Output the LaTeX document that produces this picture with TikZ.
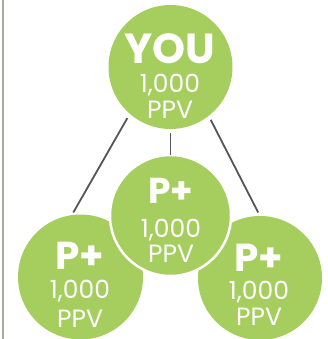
\documentclass[tikz,border=0pt]{standalone}
\usepackage{fontspec}
\setmainfont{Poppins}
\usetikzlibrary{calc}

\definecolor{leaf}{HTML}{A6CE5E}
\definecolor{wire}{HTML}{555555}
\definecolor{rule}{HTML}{ABA7A3}

\begin{document}
\begin{tikzpicture}[x=1pt,y=-1pt,
        bubble/.style={circle, fill=leaf, inner sep=0pt, outer sep=0pt},
        word/.style={anchor=base, text=white, inner sep=0pt, text height=30pt, text depth=0pt, font=\bfseries\fontsize{42}{42}\selectfont},
        plus/.style={anchor=base, text=white, inner sep=0pt, text height=27pt, text depth=0pt, font=\bfseries\fontsize{39}{39}\selectfont},
        num/.style={anchor=base, text=white, inner sep=0pt, text height=18pt, text depth=0pt, font=\fontsize{25}{25}\selectfont},
        link/.style={draw=wire, line width=1.8pt}]
        \useasboundingbox (0,0) rectangle (328,339);
        \clip (0,0) rectangle (328,339);

        % left rule
        \draw[rule, line width=2pt] (3,0) -- (3,339);

        % circles
        \node[bubble, minimum size=125pt] (left) at (80.5,277) {};
        \node[bubble, minimum size=124pt] (right) at (260,278) {};
        \node[bubble, minimum size=121pt, draw=white, line width=2.5pt] (mid) at (170.5,215.5) {};
        \node[bubble, minimum size=124pt] (you) at (170.5,67) {};

        % links
        \draw[link, shorten <=5pt, shorten >=3pt] (you.229.5) -- (left.98);
        \draw[link, shorten <=4pt] (you.270) -- (mid.90);
        \draw[link, shorten <=4.5pt, shorten >=4pt] (you.308.6) -- (right.90);

        % texts
        \node[word] (you name) at (170,64) {YOU};
        \node[num] (you num) at (170,93) {1,000};
        \node[num] (you ppv) at (170,118.5) {PPV};

        \node[plus] (left name) at (79.5,269.5) {P+};
        \node[num] (left num) at (80,298.5) {1,000};
        \node[num] (left ppv) at (80,327) {PPV};

        \node[plus, font=\bfseries\fontsize{36}{36}\selectfont] (mid name) at (171,203) {P+};
        \node[num] (mid num) at (171,237) {1,000};
        \node[num] (mid ppv) at (171,262) {PPV};

        \node[plus] (right name) at (258.5,271) {P+};
        \node[num] (right num) at (259,299.5) {1,000};
        \node[num] (right ppv) at (259,325.5) {PPV};
    \end{tikzpicture}
\end{document}
